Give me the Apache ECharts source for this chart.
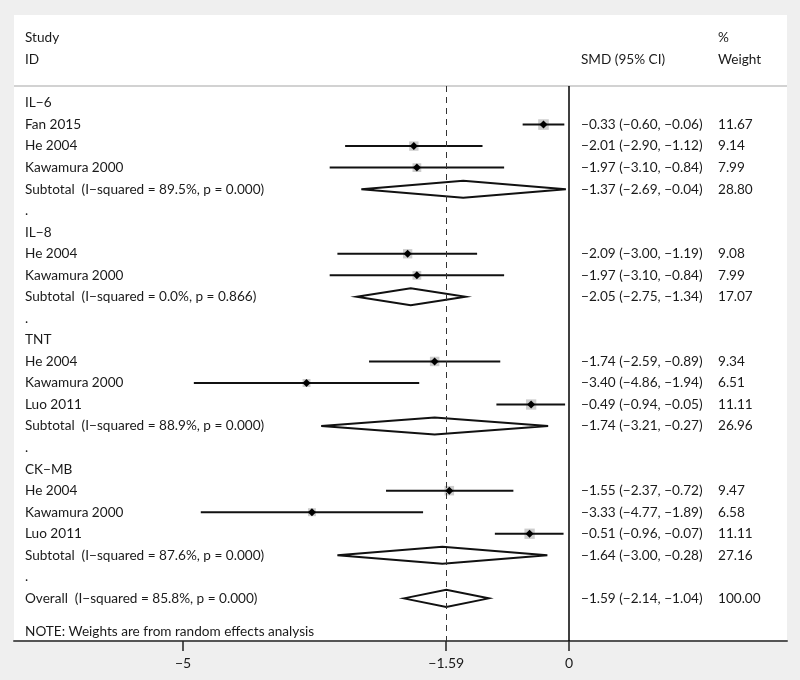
<!DOCTYPE html>
<html><head><meta charset="utf-8">
<script src="https://cdn.jsdelivr.net/npm/echarts@6/dist/echarts.min.js"></script>
<style>html,body{margin:0;padding:0;background:#efefef}#c{width:800px;height:680px}</style>
</head><body><div id="c"></div>
<script>
// ---- data ----
const rowLabels = [
  "IL\u22126","Fan 2015","He 2004","Kawamura 2000","Subtotal  (I\u2212squared = 89.5%, p = 0.000)",".",
  "IL\u22128","He 2004","Kawamura 2000","Subtotal  (I\u2212squared = 0.0%, p = 0.866)",".",
  "TNT","He 2004","Kawamura 2000","Luo 2011","Subtotal  (I\u2212squared = 88.9%, p = 0.000)",".",
  "CK\u2212MB","He 2004","Kawamura 2000","Luo 2011","Subtotal  (I\u2212squared = 87.6%, p = 0.000)",".",
  "Overall  (I\u2212squared = 85.8%, p = 0.000)","NOTE: Weights are from random effects analysis"
];
const rowKind = ["group","study","study","study","pooled","blank",
  "group","study","study","pooled","blank",
  "group","study","study","study","pooled","blank",
  "group","study","study","study","pooled","blank",
  "pooled","note"];
const smd    = [null,-0.33,-2.01,-1.97,-1.37,null, null,-2.09,-1.97,-2.05,null, null,-1.74,-3.40,-0.49,-1.74,null, null,-1.55,-3.33,-0.51,-1.64,null, -1.59,null];
const ciLow  = [null,-0.60,-2.90,-3.10,-2.69,null, null,-3.00,-3.10,-2.75,null, null,-2.59,-4.86,-0.94,-3.21,null, null,-2.37,-4.77,-0.96,-3.00,null, -2.14,null];
const ciHigh = [null,-0.06,-1.12,-0.84,-0.04,null, null,-1.19,-0.84,-1.34,null, null,-0.89,-1.94,-0.05,-0.27,null, null,-0.72,-1.89,-0.07,-0.28,null, -1.04,null];
const weights= [null,11.67,9.14,7.99,28.80,null, null,9.08,7.99,17.07,null, null,9.34,6.51,11.11,26.96,null, null,9.47,6.58,11.11,27.16,null, 100.00,null];
const overallSMD = -1.59;
const tickValues = [-5, -1.59, 0];
const headers = {study:"Study", id:"ID", smd:"SMD (95% CI)", pct:"%", weight:"Weight"};

// ---- build ----
const FONT = "Lato";
const FS = 13.6;
const TXT = "#1a1a1a";
const fmt = v => (v < 0 ? "\u2212" : "") + Math.abs(v).toFixed(2);
const studyData = [], pooledData = [], textData = [];
rowLabels.forEach((lab, i) => {
  textData.push([i, i]);
  if (rowKind[i] === "study") studyData.push([i, smd[i], ciLow[i], ciHigh[i], weights[i]]);
  if (rowKind[i] === "pooled") pooledData.push([i, smd[i], ciLow[i], ciHigh[i], weights[i]]);
});

const chart = echarts.init(document.getElementById('c'), null, {renderer:'canvas'});
const textStyle = (x, y, t) => ({type:'text', x, y, style:{text:t, fill:TXT, font:`${FS}px ${FONT}`, textAlign:'left', textVerticalAlign:'middle'}});

chart.setOption({
  backgroundColor: '#efefef',
  animation: false,
  graphic: [
    {type:'rect', z:-10, shape:{x:14, y:15, width:773, height:626}, style:{fill:'#ffffff'}},
    {type:'line', z:5, shape:{x1:14, y1:86, x2:787, y2:86}, style:{stroke:'#d2d2d2', lineWidth:2}},
    textStyle(25, 38, headers.study),
    textStyle(25, 60, headers.id),
    textStyle(581, 60, headers.smd),
    textStyle(718, 38, headers.pct),
    textStyle(718, 60, headers.weight)
  ],
  grid: {left:14, right:13, top:86, bottom:39},
  xAxis: {
    type:'value', min:-7.19, max:2.825,
    splitLine:{show:false},
    axisLine:{show:true, onZero:false, lineStyle:{color:'#555', width:2}},
    axisTick:{show:true, customValues:tickValues, length:10, lineStyle:{color:'#222', width:1.5}},
    axisLabel:{show:true, customValues:tickValues, margin:15, color:TXT, fontFamily:FONT, fontSize:14,
      formatter: v => v === 0 ? "0" : fmt(v).replace(/\.00$/, "")}
  },
  yAxis: {type:'value', inverse:true, min:-0.79, max:24.98, show:false},
  series: [
    {
      type:'custom', name:'studies', data:studyData, encode:{x:[1,2,3], y:0}, clip:false,
      renderItem:(params, api) => {
        const row = api.value(0), est = api.value(1), lo = api.value(2), hi = api.value(3), w = api.value(4);
        const pL = api.coord([lo,row]), pH = api.coord([hi,row]), pE = api.coord([est,row]);
        const s = 3.1*Math.sqrt(w), d = 4;
        return {type:'group', children:[
          {type:'rect', shape:{x:pE[0]-s/2, y:pE[1]-s/2, width:s, height:s}, style:{fill:'#cdcdcd'}},
          {type:'line', shape:{x1:pL[0], y1:pL[1], x2:pH[0], y2:pH[1]}, style:{stroke:'#111', lineWidth:2}},
          {type:'polygon', shape:{points:[[pE[0]-d,pE[1]],[pE[0],pE[1]-d],[pE[0]+d,pE[1]],[pE[0],pE[1]+d]]}, style:{fill:'#000'}}
        ]};
      },
      markLine:{
        silent:true, symbol:'none', label:{show:false},
        data:[
          {xAxis:0, lineStyle:{color:'#000', width:1.5, type:'solid'}},
          {xAxis:overallSMD, lineStyle:{color:'#333', width:1, type:[6,5]}}
        ]
      }
    },
    {
      type:'custom', name:'pooled', data:pooledData, encode:{x:[1,2,3], y:0}, clip:false,
      renderItem:(params, api) => {
        const row = api.value(0), est = api.value(1), lo = api.value(2), hi = api.value(3);
        const pL = api.coord([lo,row]), pH = api.coord([hi,row]), pE = api.coord([est,row]);
        const h = 8.5;
        return {type:'polygon', shape:{points:[[pL[0],pL[1]],[pE[0],pE[1]-h],[pH[0],pH[1]],[pE[0],pE[1]+h]]},
          style:{fill:'rgba(255,255,255,0)', stroke:'#111', lineWidth:2}};
      }
    },
    {
      type:'custom', name:'text', data:textData, encode:{y:0}, clip:false, z:3,
      renderItem:(params, api) => {
        const i = api.value(1);
        let y = api.coord([0, api.value(0)])[1];
        if (rowKind[i] === "note") y += 12;
        const ch = [textStyle(25, y, rowLabels[i])];
        if (smd[i] !== null) {
          ch.push(textStyle(581, y, `${fmt(smd[i])} (${fmt(ciLow[i])}, ${fmt(ciHigh[i])})`));
          ch.push(textStyle(718, y, weights[i].toFixed(2)));
        }
        return {type:'group', children:ch};
      }
    }
  ]
});
</script></body></html>
